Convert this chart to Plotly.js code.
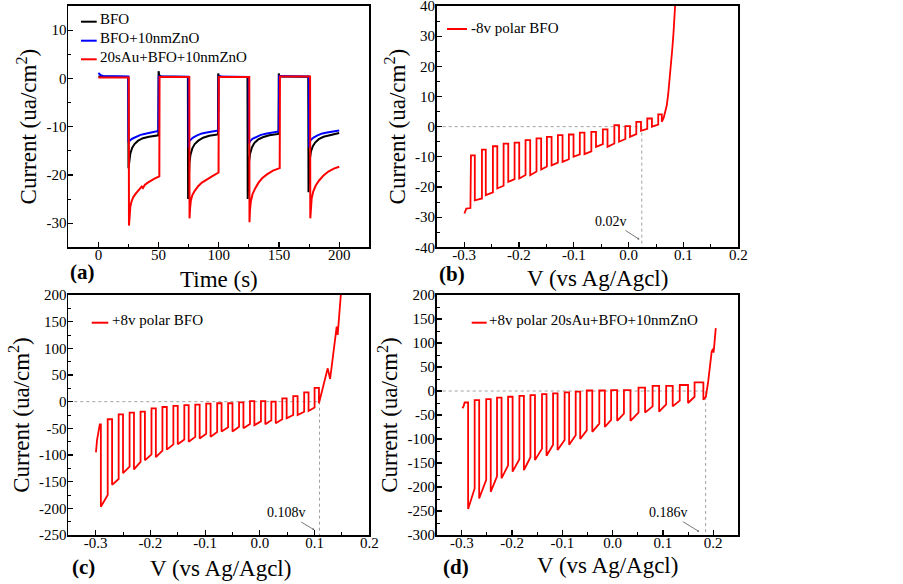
<!DOCTYPE html>
<html><head><meta charset="utf-8">
<script src="https://cdn.plot.ly/plotly-3.0.1.min.js"></script>
<style>html,body{margin:0;padding:0;background:#fff}#chart{width:903px;height:584px}</style>
</head><body><div id="chart"></div>
<script>
// ================= DATA =================
// Panel (a): chopped-light current vs time
const bfoT  = [0,24.8, 25.0,25.5,26.5,28,30,33,37,42,49.8, 50.0,50.5,52,74.3, 74.5,75.0,75.6,76.5,78,80,83,87,92,99.3, 99.5,100,102,123.8, 124,124.5,125.1,126,127.5,129.5,132.5,136.5,142,149.6, 149.8,150.3,152,174.3, 174.5,175,175.6,176.5,178,180,183,187,193,200];
const bfoI  = [0.4,0.3, -18.6,-17.2,-15.6,-14.4,-13.6,-12.9,-12.4,-12.1,-11.8, 1.5,0.6,0.4,0.3, -25.0,-20.5,-17.5,-15.8,-14.5,-13.6,-12.9,-12.3,-11.9,-11.6, 1.0,0.5,0.35,0.3, -25.0,-20.5,-17.3,-15.6,-14.3,-13.4,-12.7,-12.2,-11.8,-11.5, 1.0,0.5,0.4,0.35, -23.6,-19.5,-16.8,-15.2,-14.1,-13.3,-12.6,-12.1,-11.7,-11.3];
const znoT  = [0,0.8,2,4,10,24.8, 25.0,26,28,31,35,40,45,49.8, 50.1,74.8, 75.0,75.5,77,79,82,86,90,95,99.6, 99.9,124.8, 125,126,128,131,135,140,145,149.8, 150.1,174.8, 175,175.5,177,179,182,186,190,195,200];
const znoI  = [1.1,0.9,0.65,0.5,0.45,0.4, -13.3,-12.9,-12.5,-12.1,-11.7,-11.4,-11.1,-10.9, 0.4,0.35, -14.3,-13.0,-12.6,-12.2,-11.8,-11.4,-11.2,-11.0,-10.8, 0.4,0.3, -13.5,-13.0,-12.5,-12.1,-11.7,-11.4,-11.2,-11.0, 0.5,0.4, -14.3,-13.1,-12.6,-12.2,-11.8,-11.4,-11.2,-11.0,-10.8];
const auT   = [0,25.2, 25.4,25.8,26.5,27.5,29,31,33,35,36,37,38.5,41,44,47,50.6, 50.8,75.5, 75.7,76.1,76.8,78,80,83,86,90,95,99.8, 100.0,125.3, 125.5,125.9,126.6,128,130,133,136,140,145,150.6, 150.8,175.8, 176.0,176.4,177.1,178.5,180.5,183.5,187,191,195.5,200];
const auI   = [0.2,0.2, -30.5,-28.3,-26.6,-25.5,-24.6,-23.9,-23.3,-22.8,-22.4,-22.7,-22.1,-21.6,-21.1,-20.7,-20.3, 0.3,0.3, -29.0,-27.0,-25.3,-24.2,-23.3,-22.3,-21.6,-20.9,-20.2,-19.5, 0.3,0.3, -29.8,-27.3,-25.5,-24.0,-22.9,-21.6,-20.7,-19.9,-19.1,-18.6, 0.4,0.4, -29.0,-26.6,-24.9,-23.4,-22.2,-21.1,-20.1,-19.3,-18.7,-18.3];

// Panel (b): -8v polar BFO, chopped LSV
const bStartV = [-0.2995,-0.296,-0.2885];
const bStartI = [-28.8,-27.2,-27.0];
const bRiseV  = [-0.2875,-0.2675,-0.2475,-0.228,-0.208,-0.188,-0.168,-0.149,-0.129,-0.109,-0.089,-0.068,-0.047,-0.026,-0.006,0.014,0.034,0.054];
const bFallV  = [-0.2805,-0.2605,-0.2395,-0.2195,-0.1995,-0.1795,-0.1595,-0.1405,-0.1205,-0.1005,-0.0805,-0.0595,-0.0385,-0.0175,0.0025,0.0225,0.0425,0.0605];
const bDark   = [-9.5,-7.6,-6.5,-5.6,-5.3,-4.5,-3.9,-3.4,-2.8,-2.6,-2.0,-1.7,-0.9,0.5,0.2,1.6,2.7,4.1];
const bLightMin = [-24.4,-22.7,-20.5,-18.3,-17.2,-16.1,-14.2,-12.8,-11.7,-10.0,-9.1,-6.7,-6.7,-5.0,-3.4,-1.4,0.0,1.6];
const bLightEnd = [-23.8,-21.8,-19.6,-17.4,-16.0,-14.9,-13.2,-11.9,-10.8,-9.2,-8.2,-5.8,-5.6,-4.1,-2.5,-0.7,0.7];
const bTailV  = [0.064,0.067,0.0695,0.072,0.0745,0.077,0.0795,0.082,0.0845,0.087];
const bTailI  = [3.0,4.8,7.0,10.5,15,20,25.5,31.5,39,47];

// Panel (c): +8v polar BFO
const cStartV = [-0.2995,-0.2975];
const cStartI = [-95,-72];
const cRiseV  = [-0.2925,-0.278,-0.258,-0.238,-0.218,-0.198,-0.178,-0.158,-0.138,-0.118,-0.098,-0.078,-0.058,-0.038,-0.018,0.002,0.021,0.041,0.061,0.081,0.100];
const cFallV  = [-0.2905,-0.270,-0.250,-0.230,-0.210,-0.190,-0.170,-0.150,-0.130,-0.110,-0.090,-0.070,-0.050,-0.030,-0.010,0.010,0.029,0.049,0.069,0.089,0.108];
const cDark   = [-42.5,-33,-24,-20.5,-18.5,-12.5,-10,-8,-6.5,-5.5,-3.5,-3,-3,-1.5,1,1,0,6,10.5,17.5,26];
const cLightMin = [-197,-156,-134,-127,-110,-104,-90,-80,-75,-69,-66,-56,-56,-50,-44,-42.5,-40.5,-31,-25,-17.5,-3];
const cLightEnd = [-175,-145,-122,-113,-99,-92,-80,-71,-66,-60,-57,-48,-47,-42,-37,-35,-33,-25,-19,-11];
const cTailV  = [0.114,0.118,0.124,0.1284,0.1331,0.138,0.1404,0.1422,0.144,0.1484,0.151];
const cTailI  = [20,37.5,62.5,42.5,84.4,125,140.6,125,143.8,200,240];

// Panel (d): +8v polar 20sAu+BFO+10nmZnO
const dStartV = [-0.2988,-0.2962];
const dStartI = [-36,-31];
const dRiseV  = [-0.2945,-0.2745,-0.2515,-0.230,-0.208,-0.1855,-0.1635,-0.1405,-0.1185,-0.0955,-0.0735,-0.0515,-0.0265,-0.003,0.0225,0.0515,0.0795,0.1065,0.1335,0.163];
const dFallV  = [-0.2875,-0.2655,-0.2425,-0.221,-0.199,-0.1765,-0.1545,-0.1315,-0.1095,-0.0865,-0.0645,-0.0405,-0.0155,0.009,0.0355,0.0645,0.0925,0.1195,0.150,0.1805];
const dDark   = [-24,-19,-17,-14,-12,-10,-8.5,-6.5,-5,-3,-1.5,1,1,2,2,7,10.5,10.5,12.5,18];
const dLightMin = [-246,-224,-210,-182,-168,-165,-144,-135,-123,-112,-100,-85,-75,-62,-62,-45,-43,-32,-25,-18];
const dLightEnd = [-203,-185,-178,-155,-142,-138,-120,-112,-102,-92,-82,-68,-60,-47,-45,-32,-28,-20,-12];
const dTailV  = [0.1855,0.190,0.197,0.1995,0.2008,0.2022,0.2052];
const dTailI  = [-12,19,82,88,80,95,131];

// onset potentials (dotted guide lines) and their labels
const onsetV     = [0.024, 0.109, 0.185];
const onsetText  = ['0.02v', '0.108v', '0.186v'];
const onsetTipV  = [0.0198, 0.0997, 0.1722];
const onsetTipI  = [-37.4, -240.6, -293];

// legend names
const seriesA = ['BFO', 'BFO+10nmZnO', '20sAu+BFO+10nmZnO'];
const nameB = '-8v polar BFO';
const nameC = '+8v polar BFO';
const nameD = '+8v polar 20sAu+BFO+10nmZnO';

// axis titles
const timeTitle = 'Time (s)';
const vTitle = 'V (vs Ag/Agcl)';
const curTitle = 'Current (ua/cm<sup>2</sup>)';

// tick labels
const aXTicks = [0,50,100,150,200], aXText = ['0','50','100','150','200'];
const aYTicks = [-30,-20,-10,0,10], aYText = ['-30','-20','-10','0','10'];
const vTicks  = [-0.3,-0.2,-0.1,0,0.1,0.2], vText = ['-0.3','-0.2','-0.1','0.0','0.1','0.2'];
const bYTicks = [-40,-30,-20,-10,0,10,20,30,40], bYText = ['-40','-30','-20','-10','0','10','20','30','40'];
const cYTicks = [-250,-200,-150,-100,-50,0,50,100,150,200], cYText = ['-250','-200','-150','-100','-50','0','50','100','150','200'];
const dYTicks = [-300,-250,-200,-150,-100,-50,0,50,100,150,200], dYText = ['-300','-250','-200','-150','-100','-50','0','50','100','150','200'];
const aXMinor = [-25,25,75,125,175,225], aYMinor = [-35,-25,-15,-5,5,15];
const vMinorC = [-0.35,-0.25,-0.15,-0.05,0.05,0.15], vMinorD = [-0.35,-0.25,-0.15,-0.05,0.05,0.15,0.25];
const bYMinor = [-35,-25,-15,-5,5,15,25,35];
const cYMinor = [-225,-175,-125,-75,-25,25,75,125,175];
const dYMinor = [-275,-225,-175,-125,-75,-25,25,75,125,175];

// ================= BUILD =================
function buildSweep(sV, sI, riseV, fallV, dark, lMin, lEnd, tV, tI) {
  const V = sV.slice(), I = sI.slice();
  for (let k = 0; k < riseV.length; k++) {
    if (k > 0) { V.push(riseV[k]); I.push(lEnd[k-1]); }
    V.push(riseV[k]); I.push(dark[k]);
    V.push(fallV[k]); I.push(dark[k]);
    V.push(fallV[k]); I.push(lMin[k]);
  }
  return {V: V.concat(tV), I: I.concat(tI)};
}
const sb = buildSweep(bStartV,bStartI,bRiseV,bFallV,bDark,bLightMin,bLightEnd,bTailV,bTailI);
const sc = buildSweep(cStartV,cStartI,cRiseV,cFallV,cDark,cLightMin,cLightEnd,cTailV,cTailI);
const sd = buildSweep(dStartV,dStartI,dRiseV,dFallV,dDark,dLightMin,dLightEnd,dTailV,dTailI);

const FONT = '"Liberation Serif", "Times New Roman", serif';
const RED = '#ff0000';
const traces = [
  {x: bfoT, y: bfoI, xaxis:'x', yaxis:'y', mode:'lines', line:{color:'#000000', width:2}, name:seriesA[0]},
  {x: znoT, y: znoI, xaxis:'x', yaxis:'y', mode:'lines', line:{color:'#0000ff', width:2}, name:seriesA[1]},
  {x: auT,  y: auI,  xaxis:'x', yaxis:'y', mode:'lines', line:{color:RED, width:2}, name:seriesA[2]},
  {x: sb.V, y: sb.I, xaxis:'x2', yaxis:'y2', mode:'lines', line:{color:RED, width:1.8}, name:nameB},
  {x: sc.V, y: sc.I, xaxis:'x3', yaxis:'y3', mode:'lines', line:{color:RED, width:1.8}, name:nameC},
  {x: sd.V, y: sd.I, xaxis:'x4', yaxis:'y4', mode:'lines', line:{color:RED, width:1.8}, name:nameD}
];

const W = 903, H = 584;
const px = v => v / W, py = v => 1 - v / H;
const domAX = [px(68.3), px(369.3)], domBX = [px(436.7), px(738.3)];
const domTop = [py(247.3), py(6)], domBot = [py(535), py(295)];

function axis(o) {
  return Object.assign({
    showline:true, linecolor:'#000', linewidth:1.8, mirror:true,
    ticks:'inside', ticklen:5, tickwidth:1.2, tickcolor:'#000',
    showgrid:false, zeroline:false, fixedrange:true,
    tickmode:'array', ticklabeloverflow:'allow',
    tickfont:{family:FONT, size:15, color:'#000'},
  }, o);
}
function xax(o){ return axis(Object.assign({ticklabelstandoff:-7}, o)); }
function yax(o){ return axis(Object.assign({ticklabelstandoff:-3, title:{text:curTitle, font:{family:FONT, size:23, color:'#000'}, standoff:3}}, o)); }
function minor(vals){ return {ticks:'inside', ticklen:3, tickwidth:1, tickcolor:'#000', tickmode:'array', tickvals:vals, showgrid:false}; }

const layout = {
  width:W, height:H, margin:{l:0,r:0,t:0,b:0},
  paper_bgcolor:'#fff', plot_bgcolor:'#fff', showlegend:false,
  font:{family:FONT, color:'#000'},
  xaxis:  xax({domain:domAX, anchor:'y',  range:[-25,225], tickvals:aXTicks, ticktext:aXText, minor:minor(aXMinor)}),
  yaxis:  yax({domain:domTop, anchor:'x', range:[-35,15], tickvals:aYTicks, ticktext:aYText, minor:minor(aYMinor)}),
  xaxis2: xax({domain:domBX, anchor:'y2', range:[-0.35,0.2], tickvals:vTicks, ticktext:vText, minor:minor(vMinorC)}),
  yaxis2: yax({domain:domTop, anchor:'x2', range:[-40,40], tickvals:bYTicks, ticktext:bYText, minor:minor(bYMinor)}),
  xaxis3: xax({domain:domAX, anchor:'y3', range:[-0.35,0.2], tickvals:vTicks, ticktext:vText, minor:minor(vMinorC)}),
  yaxis3: yax({domain:domBot, anchor:'x3', range:[-250,200], tickvals:cYTicks, ticktext:cYText, minor:minor(cYMinor)}),
  xaxis4: xax({domain:domBX, anchor:'y4', range:[-0.35,0.25], tickvals:vTicks, ticktext:vText, minor:minor(vMinorD)}),
  yaxis4: yax({domain:domBot, anchor:'x4', range:[-300,200], tickvals:dYTicks, ticktext:dYText, minor:minor(dYMinor)}),
  shapes:[], annotations:[]
};

// x-axis titles (placed as text below each panel)
[[timeTitle,218.5,279],[vTitle,597,278],[vTitle,220,568],[vTitle,607,565]].forEach(t=>{
  layout.annotations.push({xref:'paper', yref:'paper', x:px(t[1]), y:py(t[2]), xanchor:'center', yanchor:'middle', showarrow:false,
    text:t[0], font:{family:FONT, size:23, color:'#000'}});
});

// dotted guide lines at the onset potentials
const dotted = {color:'#a0a0a0', width:1, dash:'dot'};
[['x2','y2',-0.35,-40],['x3','y3',-0.35,-250],['x4','y4',-0.35,-300]].forEach((a,i)=>{
  layout.shapes.push({type:'line', xref:a[0], yref:a[1], x0:a[2], x1:onsetV[i], y0:0, y1:0, line:dotted, layer:'below'});
  layout.shapes.push({type:'line', xref:a[0], yref:a[1], x0:onsetV[i], x1:onsetV[i], y0:0, y1:a[3], line:dotted, layer:'below'});
});
// onset labels with small arrows
const offs = [[-28,-18],[-28,-17],[-31,-19]];
['x2','x3','x4'].forEach((xr,i)=>{
  layout.annotations.push({xref:xr, yref:'y'+xr.slice(1), x:onsetTipV[i], y:onsetTipI[i], text:onsetText[i],
    showarrow:true, ax:offs[i][0], ay:offs[i][1], arrowhead:2, arrowsize:0.5, arrowwidth:0.8, arrowcolor:'#555', standoff:0,
    font:{family:FONT, size:14, color:'#000'}});
});

// legends (line sample + text)
function legendItem(x0, x1, yl, xt, yt, color, text){
  layout.shapes.push({type:'line', xref:'paper', yref:'paper', x0:px(x0), x1:px(x1), y0:py(yl), y1:py(yl), line:{color:color, width:2}});
  layout.annotations.push({xref:'paper', yref:'paper', x:px(xt), y:py(yt), xanchor:'left', yanchor:'middle', showarrow:false, text:text, font:{family:FONT, size:15, color:'#000'}});
}
legendItem(81, 96.7, 21.7, 97.5, 19, '#000000', seriesA[0]);
legendItem(81, 96.7, 40.7, 97.5, 38, '#0000ff', seriesA[1]);
legendItem(81, 96.7, 59.3, 97.5, 57, RED, seriesA[2]);
legendItem(447, 467, 29, 469, 28, RED, nameB);
legendItem(91.7, 108.3, 322.7, 110, 320.5, RED, nameC);
legendItem(471.7, 486.7, 322.7, 486.5, 320.5, RED, nameD);

// panel letters
[['(a)',82.5,272],['(b)',451.5,274],['(c)',83,567],['(d)',456,567]].forEach(p=>{
  layout.annotations.push({xref:'paper', yref:'paper', x:px(p[1]), y:py(p[2]), xanchor:'center', yanchor:'middle', showarrow:false,
    text:'<b>'+p[0]+'</b>', font:{family:FONT, size:21, color:'#000'}});
});

Plotly.newPlot('chart', traces, layout, {displayModeBar:false, staticPlot:true});
</script>
</body></html>
